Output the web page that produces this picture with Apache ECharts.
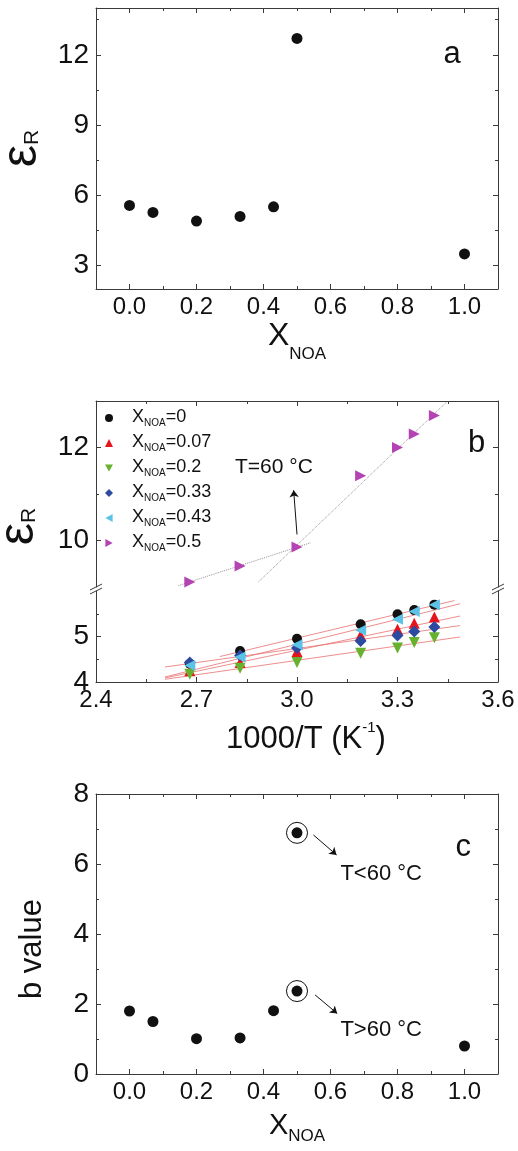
<!DOCTYPE html>
<html><head><meta charset="utf-8">
<script src="https://cdn.jsdelivr.net/npm/echarts@6/dist/echarts.min.js"></script>
<style>html,body{margin:0;padding:0;background:#fff}#c{width:518px;height:1151px}</style>
</head><body><div id="c"></div>
<script>
// ---------------- data ----------------
// panel a
const xNOA = [0, 0.07, 0.2, 0.33, 0.43, 0.5, 1.0];
const epsR = [5.57, 5.27, 4.90, 5.10, 5.51, 12.70, 3.50];
// panel b
const invT = [2.68, 2.83, 3.00, 3.19, 3.30, 3.35, 3.41];
const epsX0   = [4.40, 4.68, 4.95, 5.27, 5.49, 5.58, 5.70];
const epsX007 = [4.25, 4.43, 4.67, 5.03, 5.16, 5.29, 5.43];
const epsX02  = [4.17, 4.30, 4.43, 4.63, 4.75, 4.87, 4.97];
const epsX033 = [4.43, 4.58, 4.75, 4.90, 5.02, 5.11, 5.21];
const epsX043 = [4.36, 4.55, 4.82, 5.14, 5.38, 5.55, 5.70];
const epsX05  = [9.11, 9.45, 9.86, 11.39, 12.00, 12.29, 12.69];
// fitted lines (end points)
const fitX0   = [[2.77, 4.56], [3.47, 5.79]];
const fitX043 = [[2.606, 4.11], [3.487, 5.72]];
const fitX007 = [[2.606, 4.09], [3.487, 5.45]];
const fitX033 = [[2.606, 4.33], [3.487, 5.24]];
const fitX02  = [[2.606, 4.06], [3.487, 4.99]];
const fitX05High = [[2.646, 9.03], [3.04, 9.95]];
const fitX05Low  = [[2.885, 9.11], [3.447, 12.98]];
// panel c
const bX   = [0, 0.07, 0.2, 0.33, 0.43, 0.5, 0.5, 1.0];
const bVal = [1.80, 1.50, 1.01, 1.03, 1.81, 2.37, 6.89, 0.80];
const ringX = [0.5, 0.5];
const ringY = [2.37, 6.89];
// ticks
const xMajorA = [0, 0.2, 0.4, 0.6, 0.8, 1.0];
const xMinorA = [0.1, 0.3, 0.5, 0.7, 0.9];
const yMajorA = [3, 6, 9, 12];
const yMinorA = [4.5, 7.5, 10.5, 13.5];
const xMajorB = [2.4, 2.7, 3.0, 3.3, 3.6];
const xMinorB = [2.55, 2.85, 3.15, 3.45];
const yMajorBUp = [10, 12];
const yMinorBUp = [11, 13];
const yMajorBLo = [4, 5];
const yMinorBLo = [4.5, 5.5];
const yMajorC = [0, 2, 4, 6, 8];
const yMinorC = [1, 3, 5, 7];
const legendNames = ['X0', 'X007', 'X02', 'X033', 'X043', 'X05'];
const legendValues = ['0', '0.07', '0.2', '0.33', '0.43', '0.5'];

// ---------------- styling ----------------
const FONT = "'Liberation Sans', Arial, Helvetica, sans-serif";
const AXC = '#3a3a3a';
const TXT = '#111111';
const C = {black:'#111111', red:'#e8141c', green:'#66b22e', blue:'#2b4aa0', cyan:'#5cc3e6', mag:'#b444b4'};
const SYM = {
  down: 'path://M0,0L10,0L5,9Z',
  left: 'path://M9,0L9,10L0,5Z',
  right: 'path://M0,0L0,10L9,5Z'
};
const L = 96, R = 20;
const gridA = {top: 8, height: 281};
const gridBu = {top: 401, height: 186};
const gridBl = {top: 591, height: 91};
const gridC = {top: 794, height: 280};

const grids = [gridA, gridBu, gridBl, gridC, {top: 401, height: 281}].map(g =>
  Object.assign({left: L, right: R, containLabel: false, outerBoundsMode: 'none'}, g));

const xAxes = [], yAxes = [];
const tl = {color: AXC, width: 1};
function side(list, grid, min, max, position, major, minor, label, name) {
  const idx = list.length;
  const base = {type: 'value', gridIndex: grid, min, max, position, splitLine: {show: false}, silent: true};
  const main = Object.assign({}, base, {
    axisLine: {show: true, onZero: false, lineStyle: tl},
    axisTick: {show: true, inside: true, length: 5, customValues: major, lineStyle: tl},
    axisLabel: label ? {show: true, customValues: label.values, color: TXT, fontFamily: FONT,
      fontSize: label.size, margin: label.margin, formatter: label.fmt} : {show: false}
  }, name || {});
  list.push(main);
  list.push(Object.assign({}, base, {
    axisLine: {show: false, onZero: false},
    axisTick: {show: true, inside: true, length: 3, customValues: minor, lineStyle: tl},
    axisLabel: {show: false}
  }));
  return idx;
}
const fx1 = v => v.toFixed(1);
const fy = v => String(Math.round(v));

const xNameRichA = {
  x: {fontSize: 32, lineHeight: 32, fontFamily: FONT, color: TXT, verticalAlign: 'bottom', padding: [0, 0, 11, 0]},
  s: {fontSize: 17, lineHeight: 16, fontFamily: FONT, color: TXT, verticalAlign: 'bottom'}
};
const xNameRichC = {
  x: {fontSize: 29, lineHeight: 28, fontFamily: FONT, color: TXT, verticalAlign: 'bottom', padding: [0, 0, 5, 0]},
  s: {fontSize: 17, lineHeight: 16, fontFamily: FONT, color: TXT, verticalAlign: 'bottom'}
};
const epsRich = {
  e: {fontSize: 50, lineHeight: 50, fontFamily: FONT, color: TXT, verticalAlign: 'bottom'},
  r: {fontSize: 21, lineHeight: 21, fontFamily: FONT, color: TXT, verticalAlign: 'bottom', padding: [0, 0, 4, 0]}
};

// panel a axes
const xa = side(xAxes, 0, -0.1, 1.1, 'bottom', xMajorA, xMinorA, {values: xMajorA, size: 24, margin: 6, fmt: fx1},
  {name: '{x|X}{s|NOA}', nameLocation: 'middle', nameGap: 40, nameTextStyle: {rich: xNameRichA}});
side(xAxes, 0, -0.1, 1.1, 'top', xMajorA, xMinorA, null);
const ya = side(yAxes, 0, 2, 14, 'left', yMajorA, yMinorA, {values: yMajorA, size: 28, margin: 7, fmt: fy},
  {name: '{e|ε}{r|R}', nameLocation: 'middle', nameGap: 46, nameRotate: 90, nameTextStyle: {rich: epsRich}});
side(yAxes, 0, 2, 14, 'right', yMajorA, yMinorA, null);

// panel b upper
const xbu = side(xAxes, 1, 2.4, 3.6, 'top', xMajorB, xMinorB, null);
const ybu = side(yAxes, 1, 9, 13, 'left', yMajorBUp, yMinorBUp, {values: yMajorBUp, size: 28, margin: 7, fmt: fy});
side(yAxes, 1, 9, 13, 'right', yMajorBUp, yMinorBUp, null);
// panel b lower
const xbl = side(xAxes, 2, 2.4, 3.6, 'bottom', xMajorB, xMinorB, {values: xMajorB, size: 24, margin: 6, fmt: fx1},
  {name: '{m|1000/T (K}{p|-1}{m|)}', nameLocation: 'middle', nameGap: 38,
   nameTextStyle: {padding: [0, 0, 0, 18], rich: {
     m: {fontSize: 31, lineHeight: 30, fontFamily: FONT, color: TXT, verticalAlign: 'top', padding: [4, 0, 0, 0]},
     p: {fontSize: 15, lineHeight: 15, fontFamily: FONT, color: TXT, verticalAlign: 'top'}}}});
const ybl = side(yAxes, 2, 4, 6, 'left', yMajorBLo, yMinorBLo, {values: yMajorBLo, size: 28, margin: 7, fmt: fy});
side(yAxes, 2, 4, 6, 'right', yMajorBLo, yMinorBLo, null);

// panel c
const xc = side(xAxes, 3, -0.1, 1.1, 'bottom', xMajorA, xMinorA, {values: xMajorA, size: 24, margin: 6, fmt: fx1},
  {name: '{x|X}{s|NOA}', nameLocation: 'middle', nameGap: 43, nameTextStyle: {rich: xNameRichC}});
side(xAxes, 3, -0.1, 1.1, 'top', xMajorA, xMinorA, null);
const yc = side(yAxes, 3, 0, 8, 'left', yMajorC, yMinorC, {values: yMajorC, size: 28, margin: 7, fmt: fy},
  {name: 'b value', nameLocation: 'middle', nameGap: 48, nameRotate: 90,
   nameTextStyle: {fontSize: 31, fontFamily: FONT, color: TXT, padding: [0, 30, 0, 0]}});
side(yAxes, 3, 0, 8, 'right', yMajorC, yMinorC, null);

// panel b title holder
xAxes.push({type: 'value', gridIndex: 4, min: 0, max: 1, show: false});
yAxes.push({type: 'value', gridIndex: 4, min: 0, max: 1, position: 'left', splitLine: {show: false},
  axisLine: {show: false}, axisTick: {show: false}, axisLabel: {show: false},
  name: '{e|ε}{r|R}', nameLocation: 'middle', nameGap: 52, nameRotate: 90,
  nameTextStyle: {padding: [0, 0, 0, 30], rich: epsRich}});

// ---------------- series ----------------
const pairs = (xs, ys) => xs.map((x, i) => [x, ys[i]]);
function textPoint(xi, yi, pt, text, size, pos) {
  return {type: 'scatter', xAxisIndex: xi, yAxisIndex: yi, silent: true, symbolSize: 1,
    itemStyle: {color: 'rgba(0,0,0,0)', opacity: 1}, data: [pt], z: 5,
    label: {show: true, formatter: text, position: pos || 'inside', distance: 0, opacity: 1,
      fontSize: size, fontFamily: FONT, color: TXT}};
}
function arrow(a, b) {
  return {silent: true, symbol: ['none', 'arrow'], symbolSize: 7, precision: 4,
    lineStyle: {color: TXT, width: 1, type: 'solid', opacity: 1}, label: {show: false},
    emphasis: {disabled: true}, data: [[{coord: a}, {coord: b}]]};
}
function fitLine(xi, yi, d, color, type, w) {
  return {type: 'line', xAxisIndex: xi, yAxisIndex: yi, data: d, showSymbol: false, silent: true,
    lineStyle: {color, width: w, type}, z: 1};
}
function pts(name, xi, yi, ys, symbol, size, color) {
  return {type: 'scatter', name, xAxisIndex: xi, yAxisIndex: yi, data: pairs(invT, ys),
    symbol, symbolSize: size, itemStyle: {color, opacity: 1}, z: 3};
}

const series = [
  // panel a
  {type: 'scatter', xAxisIndex: xa, yAxisIndex: ya, data: pairs(xNOA, epsR), symbolSize: 11,
   itemStyle: {color: C.black, opacity: 1}},
  textPoint(xa, ya, [0.963, 12.0], 'a', 31),
  // panel b fits
  fitLine(xbl, ybl, fitX0, '#e87070', 'solid', 0.8),
  fitLine(xbl, ybl, fitX043, '#e87070', 'solid', 0.8),
  fitLine(xbl, ybl, fitX007, '#e87070', 'solid', 0.8),
  fitLine(xbl, ybl, fitX033, '#e87070', 'solid', 0.8),
  fitLine(xbl, ybl, fitX02, '#e87070', 'solid', 0.8),
  fitLine(xbu, ybu, fitX05High, '#9a8d9a', 'dotted', 1),
  fitLine(xbu, ybu, fitX05Low, '#9a8d9a', 'dotted', 1),
  // panel b points
  pts('X0', xbl, ybl, epsX0, 'circle', 10, C.black),
  pts('X007', xbl, ybl, epsX007, 'triangle', 11, C.red),
  pts('X02', xbl, ybl, epsX02, SYM.down, 11, C.green),
  pts('X033', xbl, ybl, epsX033, 'diamond', 12, C.blue),
  pts('X043', xbl, ybl, epsX043, SYM.left, 11, C.cyan),
  pts('X05', xbu, ybu, epsX05, SYM.right, 11, C.mag),
  Object.assign(textPoint(xbu, ybu, [2.931, 11.57], 'T=60 °C', 21),
    {markLine: arrow([3.0, 10.13], [2.99, 11.08])}),
  textPoint(xbu, ybu, [3.536, 12.09], 'b', 31),
  // panel c
  {type: 'scatter', xAxisIndex: xc, yAxisIndex: yc, data: pairs(bX, bVal), symbolSize: 11,
   itemStyle: {color: C.black, opacity: 1}},
  {type: 'scatter', xAxisIndex: xc, yAxisIndex: yc, data: pairs(ringX, ringY), symbolSize: 21, silent: true,
   itemStyle: {color: 'rgba(0,0,0,0)', borderColor: TXT, borderWidth: 1, opacity: 1},
   markLine: Object.assign(arrow([0.549, 6.83], [0.618, 6.26]),
     {data: [[{coord: [0.549, 6.83]}, {coord: [0.618, 6.26]}], [{coord: [0.554, 2.26]}, {coord: [0.62, 1.73]}]]})},
  textPoint(xc, yc, [0.628, 5.73], 'T<60 °C', 22, 'right'),
  textPoint(xc, yc, [0.628, 1.257], 'T>60 °C', 22, 'right'),
  textPoint(xc, yc, [0.996, 6.46], 'c', 31)
];

// break marks on the panel b y axes (axis-break decoration)
const breakY = gridBu.top + gridBu.height + (gridBl.top - gridBu.top - gridBu.height) / 2;
const xLeft = L, xRight = 518 - R;
const graphic = [];
[xLeft, xRight].forEach(x => {
  [-2, 2].forEach(d => graphic.push({type: 'line', silent: true,
    shape: {x1: x - 6, y1: breakY + d + 3, x2: x + 6, y2: breakY + d - 3},
    style: {stroke: AXC, lineWidth: 1}}));
});

const legendRich = {
  x0: {fontSize: 18, lineHeight: 20, fontFamily: FONT, color: TXT, verticalAlign: 'bottom', padding: [0, 0, 2, 14]},
  s: {fontSize: 10, lineHeight: 10, fontFamily: FONT, color: TXT, verticalAlign: 'bottom'},
  x: {fontSize: 18, lineHeight: 20, fontFamily: FONT, color: TXT, verticalAlign: 'bottom', padding: [0, 0, 2, 0]}
};

const chart = echarts.init(document.getElementById('c'), null, {renderer: 'canvas'});
chart.setOption({
  animation: false,
  backgroundColor: '#ffffff',
  textStyle: {fontFamily: FONT},
  grid: grids,
  xAxis: xAxes,
  yAxis: yAxes,
  legend: {
    data: legendNames, orient: 'vertical', left: 105, top: 408, itemWidth: 8, itemHeight: 8,
    itemGap: 5, selectedMode: false, padding: 0,
    formatter: n => '{x0|X}{s|NOA}{x|=' + legendValues[legendNames.indexOf(n)] + '}',
    textStyle: {rich: legendRich}
  },
  graphic,
  series
});
</script></body></html>
